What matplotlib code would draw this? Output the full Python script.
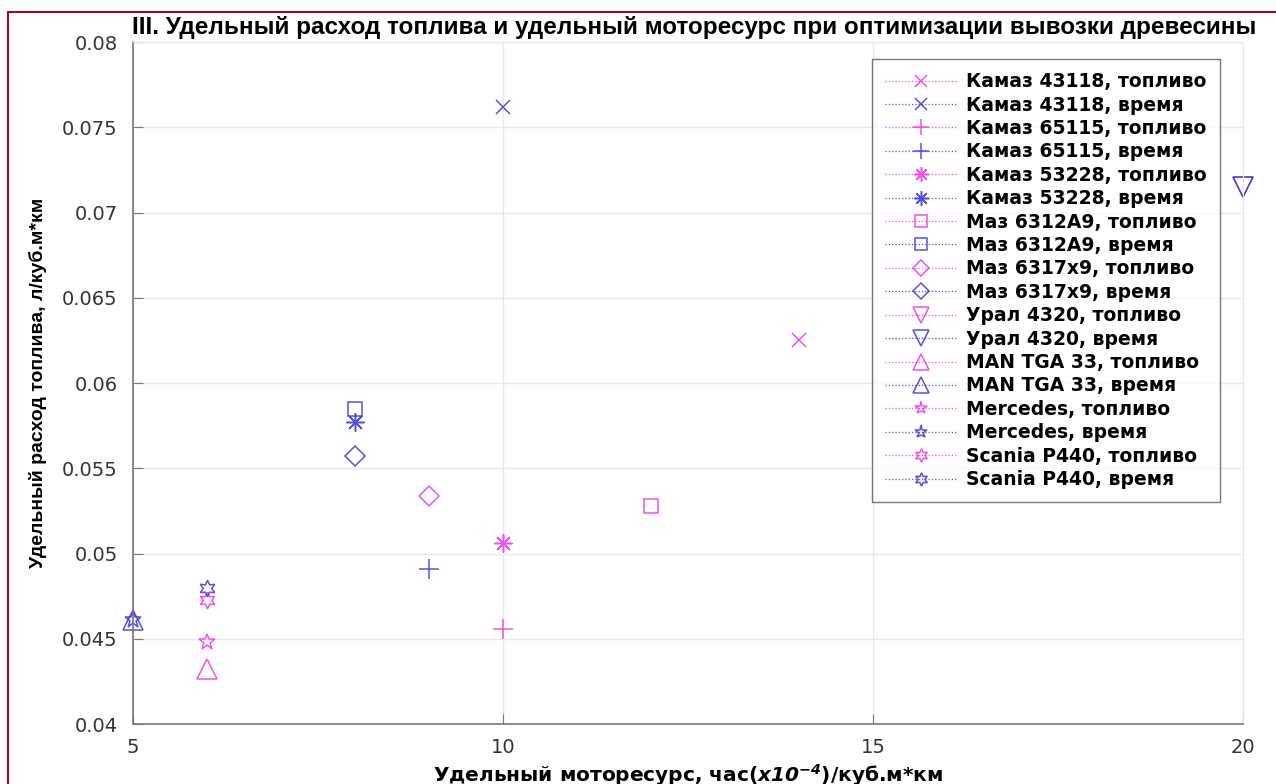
import numpy as np
import matplotlib.pyplot as plt
from matplotlib.patches import Rectangle
from matplotlib.ticker import FuncFormatter

plt.rcParams['font.family'] = ['DejaVu Sans']

# данные: (x - моторесурс, y - расход топлива)
labels = ['Камаз 43118', 'Камаз 65115', 'Камаз 53228', 'Маз 6312А9', 'Маз 6317x9',
          'Урал 4320', 'MAN TGA 33', 'Mercedes', 'Scania P440']
markers = ['x', '+', (8, 2, 0), 's', 'D', 'v', '^', '*', (6, 1, 0)]
fuel_x = [14, 10, 10, 12, 9, 20, 6, 6, 6]
fuel_y = [0.0625, 0.0456, 0.0506, 0.0528, 0.0534, 0.0715, 0.0432, 0.0448, 0.0473]
time_x = [10, 9, 8, 8, 8, 20, 5, 5, 6]
time_y = [0.0762, 0.0491, 0.0577, 0.0585, 0.0557, 0.0715, 0.0461, 0.0461, 0.0480]

c_fuel = '#ee33ee'
c_time = '#3535e0'

fig = plt.figure(figsize=(12.76, 7.84), dpi=100)
ax = fig.add_axes([0.1042, 0.0765, 0.8699, 0.8699])

msizes = [10, 14, 13, 10, 10, 14, 14, 12, 12]
for i in range(len(labels)):
    for xs, ys, col, tag in [(fuel_x, fuel_y, c_fuel, 'топливо'), (time_x, time_y, c_time, 'время')]:
        ax.plot([xs[i]], [ys[i]], linestyle=':', linewidth=0.9, marker=markers[i],
                markersize=msizes[i], markerfacecolor='none', markeredgecolor=col,
                color=col, markeredgewidth=1.1, label=labels[i] + ', ' + tag,
                clip_on=False, alpha=0.85)

ax.set_xlim(5, 20)
ax.set_ylim(0.04, 0.08)
ax.set_xticks([5, 10, 15, 20])
ax.set_yticks(np.arange(0.04, 0.0801, 0.005))
ax.yaxis.set_major_formatter(FuncFormatter(lambda v, p: '%g' % round(v, 4)))
ax.grid(True, color='#e8e8e8', linewidth=1)
ax.set_axisbelow(True)
ax.tick_params(direction='in', labelsize=14, labelcolor='#333333', color='#777777', length=7)
ax.tick_params(axis='y', pad=11)
ax.tick_params(axis='x', pad=10)
for s in ['top', 'right']:
    ax.spines[s].set_color('#e8e8e8')
for s in ['left', 'bottom']:
    ax.spines[s].set_color('#777777')
    ax.spines[s].set_linewidth(1.2)

ax.set_xlabel('Удельный моторесурс, час($\\mathbfit{x10}^{\\mathbfit{-4}}$)/куб.м*км',
              fontsize=14.5, fontweight='bold', va='top')
ax.xaxis.set_label_coords(0.5, -0.056)
ax.set_ylabel('Удельный расход топлива, л/куб.м*км', fontsize=14, fontweight='bold',
              family='Liberation Sans')
ax.yaxis.set_label_coords(-0.0775, 0.5)
fig.text(0.5439, 0.9568, 'III. Удельный расход топлива и удельный моторесурс при оптимизации вывозки древесины',
         ha='center', va='baseline', fontsize=17.5, fontweight='bold', family='Liberation Sans')

leg = ax.legend(loc='upper right', bbox_to_anchor=(0.979, 0.975),
                prop={'weight': 'bold', 'size': 13.5}, frameon=True, fancybox=False,
                edgecolor='#555555', handlelength=3.8, handletextpad=0.5,
                labelspacing=0.235, borderpad=0.7, borderaxespad=0, markerscale=0.8)
leg.get_frame().set_linewidth(1.0)

fig.patches.append(Rectangle((0.0063, -0.1), 1.2, 1.085, transform=fig.transFigure,
                             fill=False, edgecolor='#9b1010', linewidth=1.5))

fig.savefig('out.png', dpi=100)
